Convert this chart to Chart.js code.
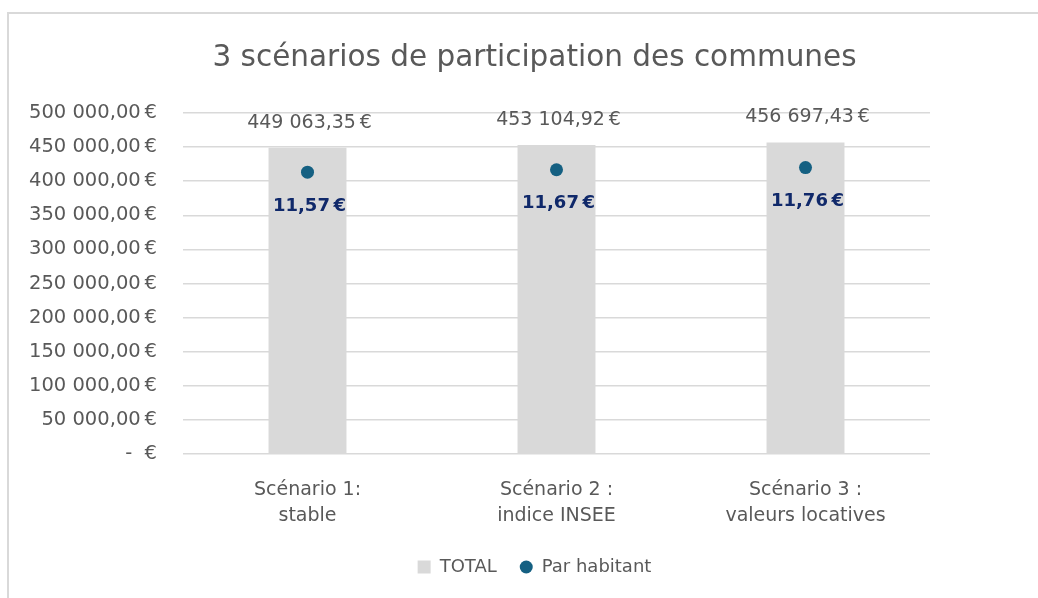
<!DOCTYPE html>
<html lang="fr">
<head>
<meta charset="utf-8">
<script src="https://cdn.jsdelivr.net/npm/chart.js@4.4.1/dist/chart.umd.min.js"></script>
<style>
  html, body { margin: 0; padding: 0; background: #fff; overflow: hidden; }
  #wrap { position: relative; width: 1038px; height: 598px; }
  #frame {
    position: absolute; left: 7px; top: 12px; width: 1100px; height: 700px;
    border: 2px solid #d9d9d9; box-sizing: border-box;
  }
  #c { position: absolute; left: 0; top: 0; }
</style>
</head>
<body>
<div id="wrap">
  <div id="frame"></div>
  <canvas id="c" width="1038" height="598"></canvas>
</div>
<script>
const scenarios = [
  ['Scénario 1:', 'stable'],
  ['Scénario 2 :', 'indice INSEE'],
  ['Scénario 3 :', 'valeurs locatives'],
];
const totals = [449063.35, 453104.92, 456697.43];
const perHabitant = [11.57, 11.67, 11.76];

const FONT = '"DejaVu Sans", sans-serif';
const TEXT = '#595959';
const GREY = '#d9d9d9';
const TEAL = '#156082';
const NAVY = '#10296a';

const euro = (v) => {
  if (v === 0) return '-  €';
  const [int, dec] = v.toFixed(2).split('.');
  return int.replace(/\B(?=(\d{3})+(?!\d))/g, ' ') + ',' + dec + '\u202F€';
};

// y tick labels are drawn here so they can sit left of the scale box
const yLabels = {
  id: 'yLabels',
  afterDraw(chart) {
    const { ctx } = chart;
    const scale = chart.scales.y;
    ctx.save();
    ctx.fillStyle = TEXT;
    ctx.font = '19.5px ' + FONT;
    ctx.textAlign = 'right';
    ctx.textBaseline = 'middle';
    scale.ticks.forEach((t) => {
      ctx.fillText(euro(t.value), 157, scale.getPixelForValue(t.value));
    });
    ctx.restore();
  },
};

const valueLabels = {
  id: 'valueLabels',
  afterDatasetsDraw(chart) {
    const { ctx } = chart;
    ctx.save();
    ctx.textAlign = 'center';
    ctx.textBaseline = 'middle';

    chart.getDatasetMeta(0).data.forEach((bar, i) => {
      ctx.fillStyle = TEXT;
      ctx.font = '19px ' + FONT;
      ctx.fillText(euro(totals[i]), bar.x + 2, bar.y - 25);
    });

    chart.getDatasetMeta(1).data.forEach((pt, i) => {
      ctx.fillStyle = NAVY;
      ctx.font = 'bold 18px ' + FONT;
      ctx.fillText(euro(perHabitant[i]), pt.x + 2, pt.y + 34);
    });
    ctx.restore();
  },
};

new Chart(document.getElementById('c'), {
  data: {
    labels: scenarios,
    datasets: [
      {
        type: 'bar',
        label: 'TOTAL',
        data: totals,
        backgroundColor: GREY,
        barPercentage: 0.313,
        categoryPercentage: 1,
        yAxisID: 'y',
        order: 2,
      },
      {
        type: 'line',
        label: 'Par habitant',
        data: perHabitant,
        showLine: false,
        pointRadius: 6.5,
        pointHoverRadius: 6.5,
        pointBackgroundColor: TEAL,
        pointBorderWidth: 0,
        backgroundColor: TEAL,
        borderColor: TEAL,
        yAxisID: 'y2',
        order: 1,
      },
    ],
  },
  options: {
    responsive: false,
    animation: false,
    events: [],
    layout: { padding: { left: 139, right: 108, top: 0, bottom: 12 } },
    plugins: {
      title: {
        display: true,
        text: '3 scénarios de participation des communes',
        color: TEXT,
        font: { family: FONT, size: 29.5, weight: 'normal', lineHeight: 1.2 },
        padding: { top: 41, bottom: 36.6 },
      },
      legend: {
        position: 'bottom',
        labels: {
          color: TEXT,
          font: { family: FONT, size: 18 },
          boxWidth: 13,
          boxHeight: 13,
          padding: 23,
          useBorderRadius: true,
          sort: (a, b) => a.datasetIndex - b.datasetIndex,
          generateLabels(chart) {
            const items = Chart.defaults.plugins.legend.labels.generateLabels(chart);
            items.forEach((it) => {
              const bar = it.datasetIndex === 0;
              it.fillStyle = bar ? GREY : TEAL;
              it.strokeStyle = 'transparent';
              it.lineWidth = 0;
              it.borderRadius = bar ? 0 : 6.5;
            });
            return items;
          },
        },
      },
      tooltip: { enabled: false },
    },
    scales: {
      x: {
        afterFit(scale) { scale.height = 81; },
        grid: { display: false },
        border: { display: false },
        ticks: {
          color: TEXT,
          font: { family: FONT, size: 19, lineHeight: 1.37 },
          padding: 15,
          maxRotation: 0,
        },
      },
      y: {
        min: 0,
        max: 500000,
        afterFit(scale) { scale.width = 44; },
        grid: { color: GREY, lineWidth: 1.5, drawTicks: false },
        border: { display: false },
        ticks: { stepSize: 50000, display: false },
      },
      y2: {
        display: false,
        min: 0,
        max: 14,
      },
    },
  },
  plugins: [yLabels, valueLabels],
});
</script>
</body>
</html>
